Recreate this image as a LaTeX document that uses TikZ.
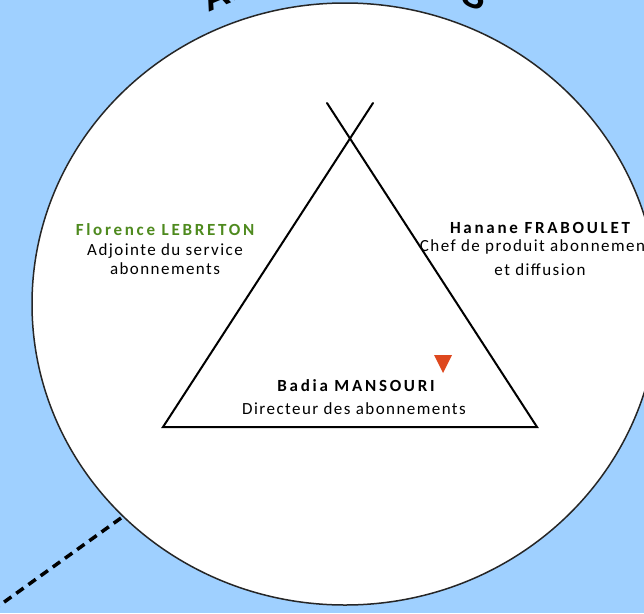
\documentclass[tikz,border=0pt]{standalone}
\usepackage{fontspec}
\setmainfont{Carlito}
\newfontfamily\namefont[LetterSpace=16]{Carlito}
\newfontfamily\rolefont[LetterSpace=8.5]{Carlito}
\newfontfamily\arcfont{Liberation Sans}
\usepackage{xcolor}
\usetikzlibrary{decorations.text}
\definecolor{skyblue}{RGB}{159,208,255}
\definecolor{namegreen}{RGB}{78,138,30}
\definecolor{markred}{RGB}{222,72,30}

\tikzset{
  pname/.style={anchor=base, font=\namefont\fontsize{17}{20}\selectfont\bfseries},
  prole/.style={anchor=base, font=\rolefont\fontsize{17}{20}\selectfont},
  pole/.style={line width=2pt, line cap=round},
}

\begin{document}
\begin{tikzpicture}[x=1pt, y=-1pt]

% Background
\fill[skyblue] (0,0) rectangle (644,613);
\clip (0,0) rectangle (644,613);

% Title along the circle
\path[decorate, decoration={text along path, text align=center,
  text={|\arcfont\bfseries\fontsize{36}{40}\selectfont|ABONNEMENTS}}]
  (23,304) arc[start angle=180, end angle=360, radius=322];

% Circle
\filldraw[fill=white, draw=black!85, line width=1.5pt] (345,304) ellipse [x radius=313, y radius=301];

% Dashed link
\coordinate (linkstart) at (121,518);
\coordinate (linkend) at (-25,623);
\draw[line width=3.5pt, dash pattern=on 9pt off 6pt] (linkstart) -- (linkend);

% Teepee
\coordinate (apexL) at (327,103);
\coordinate (apexR) at (373,103);
\coordinate (baseL) at (163,427);
\coordinate (baseR) at (537,427);
\draw[pole] (apexR) -- (baseL) -- (baseR) -- (apexL);

% Marker
\fill[markred] (434,355) -- (452,355) -- (443,373) -- cycle;

% People
\node[pname, text=namegreen] (florence) at (165,235) {Florence LEBRETON};
\node[prole] (florenceA) at (165,255) {Adjointe du service};
\node[prole] (florenceB) at (165,274) {abonnements};

\node[pname] (hanane) at (540,233) {Hanane FRABOULET};
\node[prole] (hananeA) at (540,251) {Chef de produit abonnements};
\node[prole] (hananeB) at (540,275) {et diffusion};

\node[pname] (badia) at (356,391) {Badia MANSOURI};
\node[prole] (badiaA) at (354,414) {Directeur des abonnements};

\end{tikzpicture}
\end{document}
